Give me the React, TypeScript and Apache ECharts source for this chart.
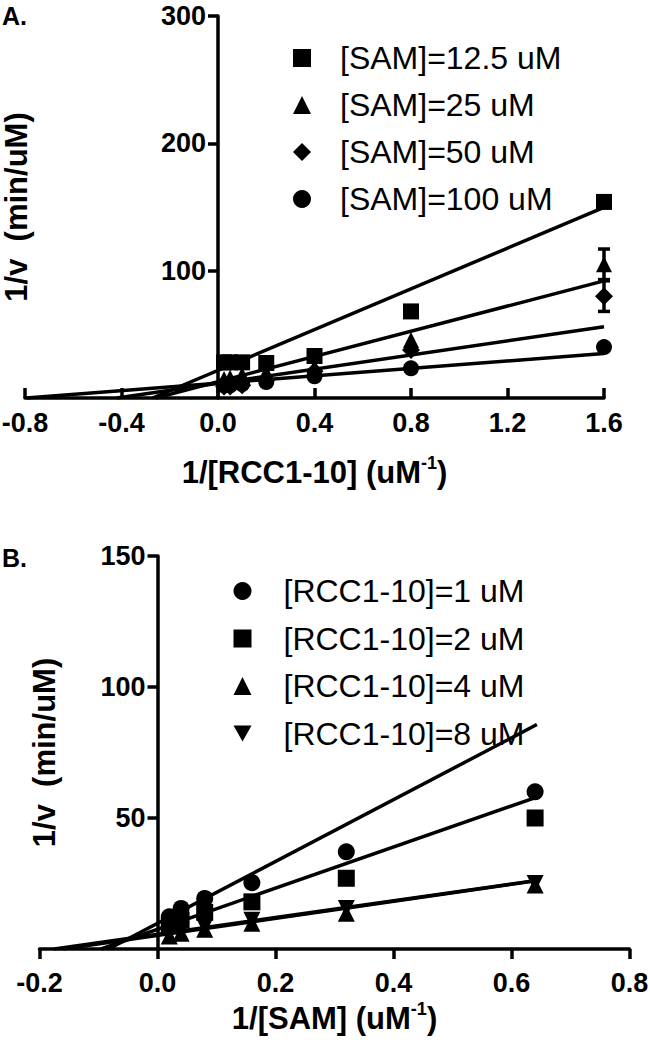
import React, { useEffect, useRef } from "react";
import * as echarts from "echarts";

// ---------- Panel A data ----------
const xA = [0.025, 0.05, 0.1, 0.2, 0.4, 0.8, 1.6];
const namesA = ["[SAM]=12.5 uM", "[SAM]=25 uM", "[SAM]=50 uM", "[SAM]=100 uM"];
const sam12 = [28, 28, 28, 27.5, 33, 68, 154];
const sam25 = [15, 16, 18, 20, 24, 45.5, 105];
const sam50 = [9, 9, 10, 14, 21, 37.7, 80];
const sam100 = [10, 10, 11, 12.5, 17, 23.3, 40];
const errAx = [1.6, 1.6];
const errAmean = [105, 80];
const errAsd = [12, 12];
const fitAintercept = [21.7, 12.8, 11.6, 11.6];
const fitAslope = [80, 49.5, 27.7, 14.6];
const xAticks = { min: -0.8, max: 1.6, interval: 0.4 };
const yAticks = { min: 0, max: 300, interval: 100 };

// ---------- Panel B data ----------
const xB = [0.02, 0.04, 0.08, 0.16, 0.32, 0.64];
const namesB = ["[RCC1-10]=1 uM", "[RCC1-10]=2 uM", "[RCC1-10]=4 uM", "[RCC1-10]=8 uM"];
const rcc1 = [12.3, 15.5, 19.3, 25.3, 37.1, 60];
const rcc2 = [9, 11, 14, 18, 27, 50];
const rcc4 = [5, 6, 7.5, 9.8, 13.6, 24.4];
const rcc8 = [6, 7, 8.5, 11, 15.5, 25];
const fitBintercept = [9.8, 7.5, 5.2, 5.6];
const fitBslope = [118, 78.5, 32.5, 32];
const xBticks = { min: -0.2, max: 0.8, interval: 0.2 };
const yBticks = { min: 0, max: 150, interval: 50 };

const FONT = "Liberation Sans, Arial, Helvetica, sans-serif";

const GRID_A = { left: 25, top: 16, width: 579, height: 382 };
const GRID_B = { left: 39.5, top: 556, width: 590, height: 393 };

function fitLine(a: number, b: number, xmin: number, xmax: number) {
  const x0 = Math.max(xmin, -a / b);
  return [
    [x0, a + b * x0],
    [xmax, a + b * xmax],
  ];
}

// offset that puts the y axis at x = 0 of the x scale
function zeroOffset(t: { min: number; max: number }, width: number) {
  return -((0 - t.min) / (t.max - t.min)) * width;
}

export default function App() {
  const ref = useRef<HTMLDivElement>(null);
  useEffect(() => {
    const chart = echarts.init(ref.current!, null, { renderer: "svg" });

    const axisLabel = (margin: number) => ({
      color: "#000",
      fontFamily: FONT,
      fontWeight: "bold" as const,
      fontSize: 27,
      margin,
    });
    const nameStyle = {
      color: "#000",
      fontFamily: FONT,
      fontWeight: "bold" as const,
      fontSize: 31,
      lineHeight: 36,
      rich: {
        sup: {
          color: "#000",
          fontFamily: FONT,
          fontWeight: "bold" as const,
          fontSize: 18,
          lineHeight: 22,
          verticalAlign: "top" as const,
        },
      },
    };
    const axisLine = { show: true, onZero: false, lineStyle: { color: "#000", width: 3.5 } };
    const tickStyle = { color: "#000", width: 3.5 };

    const symA = ["rect", "triangle", "diamond", "circle"];
    const sizeA = [16, 16, 18, 16];
    const valsA = [sam12, sam25, sam50, sam100];
    const symB = ["circle", "rect", "triangle", "triangle"];
    const rotB = [0, 0, 0, 180];
    const valsB = [rcc1, rcc2, rcc4, rcc8];

    const series: any[] = [];
    fitAintercept.forEach((a, i) => {
      series.push({
        type: "line",
        name: "fitA" + i,
        xAxisIndex: 0,
        yAxisIndex: 0,
        data: fitLine(a, fitAslope[i], xAticks.min, xAticks.max),
        symbol: "none",
        lineStyle: { color: "#000", width: 3.5 },
        z: 2,
        silent: true,
      });
    });
    fitBintercept.forEach((a, i) => {
      series.push({
        type: "line",
        name: "fitB" + i,
        xAxisIndex: 1,
        yAxisIndex: 1,
        data: fitLine(a, fitBslope[i], xBticks.min, 0.643),
        symbol: "none",
        lineStyle: { color: "#000", width: 3.5 },
        z: 2,
        silent: true,
      });
    });
    namesA.forEach((n, i) => {
      series.push({
        type: "scatter",
        name: n,
        xAxisIndex: 0,
        yAxisIndex: 0,
        symbol: symA[i],
        symbolSize: sizeA[i],
        itemStyle: { color: "#000", opacity: 1 },
        data: xA.map((x, j) => [x, valsA[i][j]]),
        z: 3,
      });
    });
    namesB.forEach((n, i) => {
      series.push({
        type: "scatter",
        name: n,
        xAxisIndex: 1,
        yAxisIndex: 1,
        symbol: symB[i],
        symbolRotate: rotB[i],
        symbolSize: 17,
        itemStyle: { color: "#000", opacity: 1 },
        data: xB.map((x, j) => [x, valsB[i][j]]),
        z: 3,
      });
    });
    series.push({
      type: "custom",
      name: "errA",
      xAxisIndex: 0,
      yAxisIndex: 0,
      z: 4,
      silent: true,
      data: errAx.map((x, i) => [x, errAmean[i] - errAsd[i], errAmean[i] + errAsd[i]]),
      renderItem: (_p: any, api: any) => {
        const x = api.value(0);
        const lo = api.coord([x, api.value(1)]);
        const hi = api.coord([x, api.value(2)]);
        const w = 6;
        const st = { stroke: "#000", lineWidth: 3.5 };
        return {
          type: "group",
          children: [
            { type: "line", shape: { x1: hi[0], y1: hi[1], x2: lo[0], y2: lo[1] }, style: st },
            { type: "line", shape: { x1: hi[0] - w, y1: hi[1], x2: hi[0] + w, y2: hi[1] }, style: st },
            { type: "line", shape: { x1: lo[0] - w, y1: lo[1], x2: lo[0] + w, y2: lo[1] }, style: st },
          ],
        };
      },
    });

    const legendText = (padLeft: number) => ({
      color: "#000",
      fontFamily: FONT,
      fontSize: 32,
      lineHeight: 30,
      padding: [0, 0, 0, padLeft],
    });

    chart.setOption({
      animation: false,
      backgroundColor: "#fff",
      grid: [
        { ...GRID_A, outerBoundsMode: "none", containLabel: false },
        { ...GRID_B, outerBoundsMode: "none", containLabel: false },
      ],
      xAxis: [
        {
          type: "value",
          gridIndex: 0,
          ...xAticks,
          axisLine,
          axisTick: { show: true, inside: true, length: 10, lineStyle: tickStyle },
          axisLabel: { ...axisLabel(11), formatter: (v: number) => v.toFixed(1) },
          splitLine: { show: false },
          name: "1/[RCC1-10] (uM{sup|-1})",
          nameLocation: "middle",
          nameGap: 56,
          nameTextStyle: nameStyle,
        },
        {
          type: "value",
          gridIndex: 1,
          ...xBticks,
          axisLine,
          axisTick: { show: true, inside: false, length: 10, lineStyle: tickStyle },
          axisLabel: { ...axisLabel(20), formatter: (v: number) => v.toFixed(1) },
          splitLine: { show: false },
          name: "1/[SAM] (uM{sup|-1})",
          nameLocation: "middle",
          nameGap: 51,
          nameTextStyle: nameStyle,
        },
      ],
      yAxis: [
        {
          type: "value",
          gridIndex: 0,
          ...yAticks,
          offset: zeroOffset(xAticks, GRID_A.width),
          axisLine,
          axisTick: { show: true, length: 10, lineStyle: tickStyle },
          axisLabel: { ...axisLabel(12), showMinLabel: false },
          splitLine: { show: false },
          name: "1/v  (min/uM)",
          nameLocation: "middle",
          nameRotate: 90,
          nameGap: 184,
          nameTextStyle: nameStyle,
        },
        {
          type: "value",
          gridIndex: 1,
          ...yBticks,
          offset: zeroOffset(xBticks, GRID_B.width),
          axisLine,
          axisTick: { show: true, length: 10, lineStyle: tickStyle },
          axisLabel: { ...axisLabel(12), showMinLabel: false },
          splitLine: { show: false },
          name: "1/v  (min/uM)",
          nameLocation: "middle",
          nameRotate: 90,
          nameGap: 95,
          nameTextStyle: nameStyle,
        },
      ],
      legend: [
        {
          data: namesA,
          orient: "vertical",
          left: 288,
          top: 37,
          itemWidth: 18,
          itemHeight: 18,
          itemGap: 15,
          selectedMode: false,
          textStyle: legendText(24),
        },
        {
          data: [
            namesB[0],
            namesB[1],
            namesB[2],
            { name: namesB[3], icon: "path://M0,0L20,0L10,18Z" },
          ],
          orient: "vertical",
          left: 228.5,
          top: 570,
          itemWidth: 18,
          itemHeight: 18,
          itemGap: 15.5,
          selectedMode: false,
          textStyle: legendText(27),
        },
      ],
      graphic: [
        {
          type: "text",
          left: 2,
          top: 3,
          style: { text: "A.", fill: "#000", font: `bold 25px ${FONT}` },
        },
        {
          type: "text",
          left: 2,
          top: 545,
          style: { text: "B.", fill: "#000", font: `bold 25px ${FONT}` },
        },
      ],
      series,
    });
    return () => chart.dispose();
  }, []);
  return (
    <div
      ref={ref}
      style={{ position: "absolute", left: 0, top: 0, width: 650, height: 1040, background: "#fff" }}
    />
  );
}
